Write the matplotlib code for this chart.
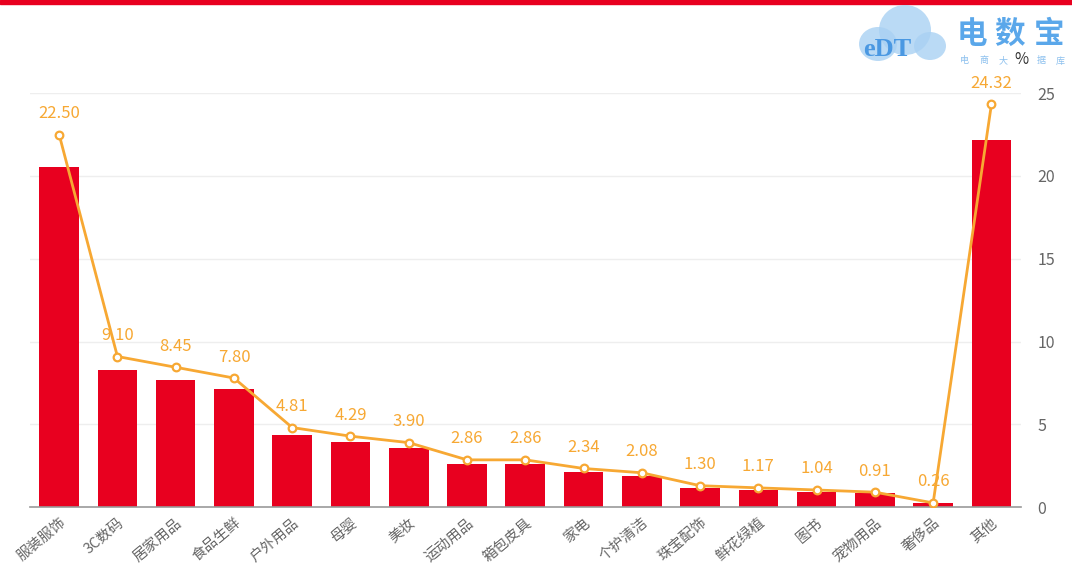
import matplotlib.pyplot as plt
from matplotlib.patches import Ellipse, Rectangle

plt.rcParams['font.family'] = ['Noto Sans CJK SC', 'DejaVu Sans']

# 品类占比（%）
categories = ['服装服饰', '3C数码', '居家用品', '食品生鲜', '户外用品', '母婴', '美妆',
              '运动用品', '箱包皮具', '家电', '个护清洁', '珠宝配饰', '鲜花绿植', '图书',
              '宠物用品', '奢侈品', '其他']
share = [22.50, 9.10, 8.45, 7.80, 4.81, 4.29, 3.90, 2.86, 2.86, 2.34, 2.08,
         1.30, 1.17, 1.04, 0.91, 0.26, 24.32]
right_ticks = [0, 5, 10, 15, 20, 25]

bar_color = '#E8001F'
line_color = '#F7A833'
grey = '#666666'

fig = plt.figure(figsize=(10.72, 5.68), dpi=100)
ax = fig.add_axes([0.028, 0.107, 0.924, 0.729])   # 柱子用的隐藏左轴
ax2 = ax.twinx()                                   # 折线 + 右侧刻度

x = list(range(len(categories)))

# 网格线画在柱子下面，但按右轴刻度定位
for t in right_ticks[1:]:
    ax.plot([-0.5, len(categories) - 0.5], [t, t], transform=ax2.transData,
            color='#eeeeee', lw=1, zorder=0)

ax.bar(x, share, width=0.68, color=bar_color, zorder=2)
ax.set_ylim(0, 27.4)
ax.set_xlim(-0.5, len(categories) - 0.5)
ax.set_yticks([])
for s in ['top', 'left', 'right']:
    ax.spines[s].set_visible(False)
ax.spines['bottom'].set_color('#999999')
ax.spines['bottom'].set_linewidth(1.2)
ax.set_xticks(x)
ax.set_xticklabels(categories, rotation=40, ha='right', rotation_mode='anchor',
                   fontsize=10.5, color=grey)
ax.tick_params(axis='x', length=0, pad=6)

ax2.plot(x, share, color=line_color, lw=2, marker='o', ms=5.5,
         mfc='white', mec=line_color, mew=1.6, zorder=5)
for xi, v in zip(x, share):
    ax2.annotate(f'{v:.2f}', (xi, v), xytext=(0, 9), textcoords='offset points',
                 ha='center', va='bottom', fontsize=12, color=line_color)
ax2.set_ylim(0, 25)
ax2.set_yticks(right_ticks)
ax2.tick_params(axis='y', length=0, pad=12, labelsize=11.5, labelcolor=grey)
for s in ['top', 'left', 'right', 'bottom']:
    ax2.spines[s].set_visible(False)
ax.set_zorder(ax2.get_zorder() - 1)
ax2.patch.set_visible(False)
ax.patch.set_visible(False)

# 顶部红条
fig.add_artist(Rectangle((0, 0.993), 1, 0.007, transform=fig.transFigure,
                         color=bar_color, clip_on=False))

# 右上角 logo
W, H = 1072, 568
cloud = '#A9D1F3'
for cx, cy, w, h in [(905, 30, 52, 50), (878, 44, 38, 34), (930, 46, 32, 28)]:
    fig.add_artist(Ellipse((cx / W, 1 - cy / H), w / W, h / H,
                           transform=fig.transFigure,
                           facecolor=cloud, edgecolor='none', alpha=0.8))
fig.text(863 / W, 1 - 50 / H, 'eDT', fontsize=19, color='#4A98E2',
         fontweight='bold', family='Liberation Serif', ha='left', va='center')
for ch, cx in zip('电数宝', [972, 1010, 1049]):
    fig.text(cx / W, 1 - 34 / H, ch, fontsize=22, color='#5AA7EA',
             fontweight='bold', ha='center', va='center')
for ch, cx in zip('电商大据库', [964, 984, 1003, 1041, 1060]):
    fig.text(cx / W, 1 - 61 / H, ch, fontsize=6.5, color='#8CC0EE',
             ha='center', va='center')
fig.text(1021 / W, 1 - 60 / H, '%', fontsize=11, color='#333333',
         ha='center', va='center')

fig.savefig('out.png', dpi=100)
